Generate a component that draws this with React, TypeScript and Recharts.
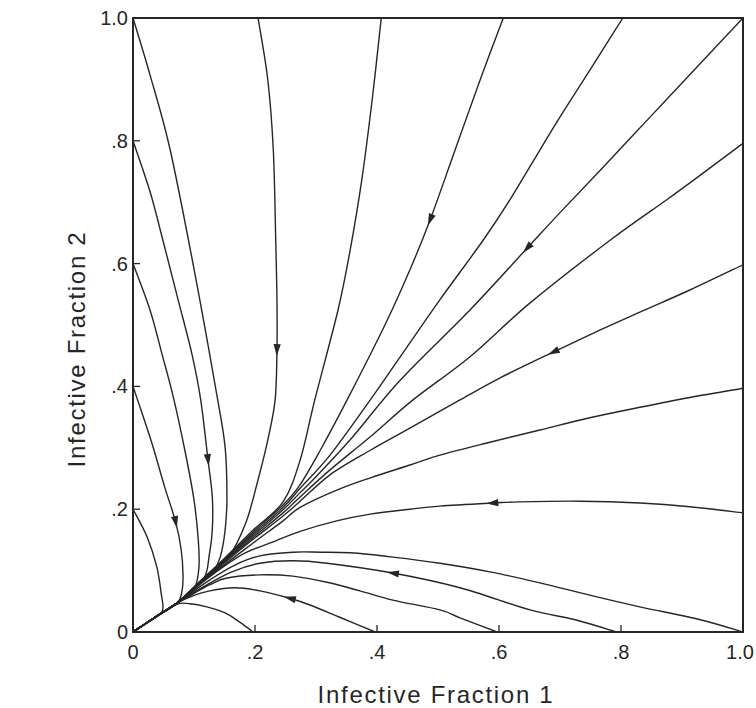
import React from 'react';
import { LineChart, Line, XAxis, YAxis, ReferenceArea, Label } from 'recharts';

type Pt = { x: number; y: number; arrow?: boolean };

const xTicks = [0, 0.2, 0.4, 0.6, 0.8, 1.0];
const yTicks = [0, 0.2, 0.4, 0.6, 0.8, 1.0];
const xTitle = 'Infective Fraction 1';
const yTitle = 'Infective Fraction 2';

// trajectories, listed from the starting point on the frame towards the origin
const fromLeft02: Pt[] = [
  { x: 0, y: 0.2 }, { x: 0.023, y: 0.155 }, { x: 0.039, y: 0.106 }, { x: 0.046, y: 0.064 },
  { x: 0.048, y: 0.034 }, { x: 0.025, y: 0.016 }, { x: 0, y: 0 },
];
const fromLeft04: Pt[] = [
  { x: 0, y: 0.4 }, { x: 0.016, y: 0.353 }, { x: 0.033, y: 0.301 }, { x: 0.052, y: 0.236 },
  { x: 0.07, y: 0.179, arrow: true }, { x: 0.079, y: 0.134 }, { x: 0.082, y: 0.093 }, { x: 0.08, y: 0.065 },
  { x: 0.072, y: 0.047 }, { x: 0.036, y: 0.024 }, { x: 0, y: 0 },
];
const fromLeft06: Pt[] = [
  { x: 0, y: 0.6 }, { x: 0.028, y: 0.524 }, { x: 0.048, y: 0.451 }, { x: 0.066, y: 0.383 },
  { x: 0.085, y: 0.296 }, { x: 0.1, y: 0.215 }, { x: 0.107, y: 0.15 }, { x: 0.108, y: 0.104 },
  { x: 0.1, y: 0.07 }, { x: 0.072, y: 0.047 }, { x: 0.036, y: 0.024 }, { x: 0, y: 0 },
];
const fromLeft08: Pt[] = [
  { x: 0, y: 0.8 }, { x: 0.028, y: 0.717 }, { x: 0.049, y: 0.638 }, { x: 0.074, y: 0.541 },
  { x: 0.097, y: 0.451 }, { x: 0.111, y: 0.378 }, { x: 0.123, y: 0.28, arrow: true }, { x: 0.13, y: 0.22 },
  { x: 0.13, y: 0.166 }, { x: 0.125, y: 0.125 }, { x: 0.115, y: 0.085 }, { x: 0.072, y: 0.047 },
  { x: 0.036, y: 0.024 }, { x: 0, y: 0 },
];
const fromTop00: Pt[] = [
  { x: 0, y: 1 }, { x: 0.028, y: 0.907 }, { x: 0.061, y: 0.785 }, { x: 0.102, y: 0.581 },
  { x: 0.138, y: 0.383 }, { x: 0.151, y: 0.301 }, { x: 0.154, y: 0.22 }, { x: 0.151, y: 0.166 },
  { x: 0.143, y: 0.122 }, { x: 0.131, y: 0.098 }, { x: 0.11, y: 0.08 }, { x: 0.072, y: 0.047 },
  { x: 0.036, y: 0.024 }, { x: 0, y: 0 },
];
const fromTop02: Pt[] = [
  { x: 0.205, y: 1 }, { x: 0.221, y: 0.899 }, { x: 0.23, y: 0.785 }, { x: 0.234, y: 0.638 },
  { x: 0.236, y: 0.541 }, { x: 0.236, y: 0.459, arrow: true }, { x: 0.233, y: 0.378 }, { x: 0.221, y: 0.313 },
  { x: 0.205, y: 0.248 }, { x: 0.185, y: 0.178 }, { x: 0.156, y: 0.121 }, { x: 0.118, y: 0.086 },
  { x: 0.072, y: 0.047 }, { x: 0.036, y: 0.024 }, { x: 0, y: 0 },
];
const fromTop04: Pt[] = [
  { x: 0.407, y: 1 }, { x: 0.392, y: 0.866 }, { x: 0.375, y: 0.736 }, { x: 0.356, y: 0.622 },
  { x: 0.336, y: 0.524 }, { x: 0.298, y: 0.378 }, { x: 0.274, y: 0.28 }, { x: 0.246, y: 0.212 },
  { x: 0.197, y: 0.166 }, { x: 0.149, y: 0.119 }, { x: 0.11, y: 0.083 }, { x: 0.072, y: 0.047 },
  { x: 0.036, y: 0.024 }, { x: 0, y: 0 },
];
const fromTop06: Pt[] = [
  { x: 0.607, y: 1 }, { x: 0.569, y: 0.899 }, { x: 0.528, y: 0.785 }, { x: 0.487, y: 0.671, arrow: true },
  { x: 0.454, y: 0.59 }, { x: 0.413, y: 0.5 }, { x: 0.351, y: 0.378 }, { x: 0.307, y: 0.296 },
  { x: 0.274, y: 0.24 }, { x: 0.246, y: 0.207 }, { x: 0.197, y: 0.163 }, { x: 0.149, y: 0.118 },
  { x: 0.11, y: 0.082 }, { x: 0.072, y: 0.047 }, { x: 0.036, y: 0.024 }, { x: 0, y: 0 },
];
const fromTop08: Pt[] = [
  { x: 0.803, y: 1 }, { x: 0.749, y: 0.915 }, { x: 0.692, y: 0.826 }, { x: 0.618, y: 0.704 },
  { x: 0.574, y: 0.638 }, { x: 0.503, y: 0.541 }, { x: 0.438, y: 0.448 }, { x: 0.389, y: 0.378 },
  { x: 0.323, y: 0.288 }, { x: 0.274, y: 0.234 }, { x: 0.246, y: 0.203 }, { x: 0.197, y: 0.16 },
  { x: 0.149, y: 0.117 }, { x: 0.11, y: 0.082 }, { x: 0.072, y: 0.047 }, { x: 0.036, y: 0.024 },
  { x: 0, y: 0 },
];
const fromCorner: Pt[] = [
  { x: 1, y: 1 }, { x: 0.93, y: 0.926 }, { x: 0.848, y: 0.839 }, { x: 0.766, y: 0.752 },
  { x: 0.7, y: 0.683 }, { x: 0.646, y: 0.625, arrow: true }, { x: 0.552, y: 0.524 }, { x: 0.438, y: 0.41 },
  { x: 0.356, y: 0.313 }, { x: 0.3, y: 0.253 }, { x: 0.274, y: 0.227 }, { x: 0.246, y: 0.199 },
  { x: 0.197, y: 0.157 }, { x: 0.149, y: 0.115 }, { x: 0.11, y: 0.081 }, { x: 0.072, y: 0.047 },
  { x: 0.036, y: 0.024 }, { x: 0, y: 0 },
];
const fromRight08: Pt[] = [
  { x: 1, y: 0.796 }, { x: 0.93, y: 0.744 }, { x: 0.875, y: 0.704 }, { x: 0.782, y: 0.638 },
  { x: 0.651, y: 0.536 }, { x: 0.552, y: 0.448 }, { x: 0.459, y: 0.378 }, { x: 0.389, y: 0.318 },
  { x: 0.323, y: 0.264 }, { x: 0.274, y: 0.22 }, { x: 0.246, y: 0.194 }, { x: 0.197, y: 0.154 },
  { x: 0.149, y: 0.114 }, { x: 0.11, y: 0.081 }, { x: 0.072, y: 0.047 }, { x: 0.036, y: 0.024 },
  { x: 0, y: 0 },
];
const fromRight06: Pt[] = [
  { x: 1, y: 0.598 }, { x: 0.913, y: 0.557 }, { x: 0.831, y: 0.521 }, { x: 0.766, y: 0.492 },
  { x: 0.689, y: 0.456, arrow: true }, { x: 0.602, y: 0.414 }, { x: 0.536, y: 0.378 }, { x: 0.454, y: 0.332 },
  { x: 0.389, y: 0.296 }, { x: 0.323, y: 0.256 }, { x: 0.274, y: 0.213 }, { x: 0.246, y: 0.189 },
  { x: 0.197, y: 0.151 }, { x: 0.149, y: 0.112 }, { x: 0.11, y: 0.08 }, { x: 0.072, y: 0.047 },
  { x: 0.036, y: 0.024 }, { x: 0, y: 0 },
];
const fromRight04: Pt[] = [
  { x: 1, y: 0.397 }, { x: 0.913, y: 0.382 }, { x: 0.831, y: 0.366 }, { x: 0.749, y: 0.349 },
  { x: 0.667, y: 0.329 }, { x: 0.585, y: 0.309 }, { x: 0.503, y: 0.288 }, { x: 0.454, y: 0.272 },
  { x: 0.389, y: 0.251 }, { x: 0.334, y: 0.231 }, { x: 0.274, y: 0.203 }, { x: 0.246, y: 0.181 },
  { x: 0.197, y: 0.145 }, { x: 0.149, y: 0.109 }, { x: 0.11, y: 0.079 }, { x: 0.072, y: 0.047 },
  { x: 0.036, y: 0.024 }, { x: 0, y: 0 },
];
const fromRight02: Pt[] = [
  { x: 1, y: 0.194 }, { x: 0.913, y: 0.204 }, { x: 0.831, y: 0.21 }, { x: 0.733, y: 0.213 },
  { x: 0.634, y: 0.212 }, { x: 0.589, y: 0.21, arrow: true }, { x: 0.503, y: 0.205 }, { x: 0.454, y: 0.2 },
  { x: 0.389, y: 0.192 }, { x: 0.334, y: 0.181 }, { x: 0.274, y: 0.164 }, { x: 0.225, y: 0.145 },
  { x: 0.184, y: 0.129 }, { x: 0.149, y: 0.107 }, { x: 0.11, y: 0.078 }, { x: 0.072, y: 0.047 },
  { x: 0.036, y: 0.024 }, { x: 0, y: 0 },
];
const fromRight00: Pt[] = [
  { x: 1, y: 0 }, { x: 0.93, y: 0.02 }, { x: 0.831, y: 0.041 }, { x: 0.749, y: 0.06 },
  { x: 0.667, y: 0.08 }, { x: 0.585, y: 0.098 }, { x: 0.503, y: 0.112 }, { x: 0.426, y: 0.122 },
  { x: 0.356, y: 0.129 }, { x: 0.307, y: 0.13 }, { x: 0.262, y: 0.13 }, { x: 0.208, y: 0.124 },
  { x: 0.167, y: 0.109 }, { x: 0.126, y: 0.085 }, { x: 0.093, y: 0.062 }, { x: 0.072, y: 0.047 },
  { x: 0.036, y: 0.024 }, { x: 0, y: 0 },
];
const fromBottom08: Pt[] = [
  { x: 0.793, y: 0 }, { x: 0.725, y: 0.02 }, { x: 0.651, y: 0.036 }, { x: 0.536, y: 0.072 },
  { x: 0.426, y: 0.096, arrow: true }, { x: 0.318, y: 0.112 }, { x: 0.262, y: 0.116 }, { x: 0.208, y: 0.112 },
  { x: 0.162, y: 0.098 }, { x: 0.118, y: 0.075 }, { x: 0.072, y: 0.047 }, { x: 0.036, y: 0.024 },
  { x: 0, y: 0 },
];
const fromBottom06: Pt[] = [
  { x: 0.597, y: 0 }, { x: 0.536, y: 0.023 }, { x: 0.503, y: 0.036 }, { x: 0.426, y: 0.052 },
  { x: 0.372, y: 0.067 }, { x: 0.318, y: 0.081 }, { x: 0.262, y: 0.091 }, { x: 0.208, y: 0.093 },
  { x: 0.154, y: 0.088 }, { x: 0.126, y: 0.077 }, { x: 0.093, y: 0.059 }, { x: 0.072, y: 0.047 },
  { x: 0.036, y: 0.024 }, { x: 0, y: 0 },
];
const fromBottom04: Pt[] = [
  { x: 0.397, y: 0 }, { x: 0.339, y: 0.024 }, { x: 0.29, y: 0.044 }, { x: 0.257, y: 0.055, arrow: true },
  { x: 0.208, y: 0.067 }, { x: 0.167, y: 0.072 }, { x: 0.126, y: 0.067 }, { x: 0.093, y: 0.057 },
  { x: 0.072, y: 0.047 }, { x: 0.036, y: 0.024 }, { x: 0, y: 0 },
];
const fromBottom02: Pt[] = [
  { x: 0.197, y: 0 }, { x: 0.175, y: 0.016 }, { x: 0.151, y: 0.031 }, { x: 0.121, y: 0.041 },
  { x: 0.093, y: 0.046 }, { x: 0.072, y: 0.045 }, { x: 0.036, y: 0.023 }, { x: 0, y: 0 },
];

const trajectories = [
  fromLeft02, fromLeft04, fromLeft06, fromLeft08, fromTop00, fromTop02, fromTop04, fromTop06,
  fromTop08, fromCorner, fromRight08, fromRight06, fromRight04, fromRight02, fromRight00,
  fromBottom08, fromBottom06, fromBottom04, fromBottom02,
];

// plot box in px, used to orient the arrow heads
const PLOT_W = 610;
const PLOT_H = 614;
const INK = '#262626';
const FONT = '"Liberation Sans", Arial, sans-serif';

const fmt = (v: number) => (v === 0 ? '0' : v === 1 ? '1.0' : `.${Math.round(v * 10)}`);

// simple catmull-rom, the trajectories are not monotone in x
const smooth = (context: any) => {
  let pts: number[][] = [];
  return {
    areaStart() {},
    areaEnd() {},
    lineStart() {
      pts = [];
    },
    point(x: number, y: number) {
      pts.push([x, y]);
    },
    lineEnd() {
      if (!pts.length) return;
      context.moveTo(pts[0][0], pts[0][1]);
      for (let i = 0; i < pts.length - 1; i++) {
        const p0 = pts[Math.max(i - 1, 0)];
        const p1 = pts[i];
        const p2 = pts[i + 1];
        const p3 = pts[Math.min(i + 2, pts.length - 1)];
        context.bezierCurveTo(
          p1[0] + (p2[0] - p0[0]) / 6, p1[1] + (p2[1] - p0[1]) / 6,
          p2[0] - (p3[0] - p1[0]) / 6, p2[1] - (p3[1] - p1[1]) / 6,
          p2[0], p2[1],
        );
      }
    },
  };
};

const arrowDot = (pts: Pt[]) => (props: any) => {
  const { cx, cy, index } = props;
  const p = pts[index];
  const q = pts[index + 1];
  if (!p || !p.arrow || !q || cx == null) return <g key={`d-${index}`} />;
  const ang = (Math.atan2(-(q.y - p.y) * PLOT_H, (q.x - p.x) * PLOT_W) * 180) / Math.PI;
  return (
    <path
      key={`d-${index}`}
      d="M6,0 L-6,-3.6 L-6,3.6 Z"
      transform={`translate(${cx},${cy}) rotate(${ang})`}
      fill={INK}
    />
  );
};

const XTick = ({ x, y, payload }: any) => (
  <g>
    <line x1={x} y1={y} x2={x} y2={y - 7} stroke={INK} strokeWidth={1.3} />
    <text
      x={payload.value === 1 ? x - 3 : x}
      y={y + 27}
      textAnchor="middle"
      fontSize={20}
      fill={INK}
      fontFamily={FONT}
    >
      {fmt(payload.value)}
    </text>
  </g>
);

const YTick = ({ x, y, payload }: any) => (
  <g>
    <line x1={x} y1={y} x2={x + 7} y2={y} stroke={INK} strokeWidth={1.3} />
    <text x={x - 5} y={y + 7} textAnchor="end" fontSize={20} fill={INK} fontFamily={FONT}>
      {fmt(payload.value)}
    </text>
  </g>
);

const XTitle = ({ viewBox }: any) => (
  <text
    x={viewBox.x + viewBox.width / 2 - 2}
    y={viewBox.y + 71}
    textAnchor="middle"
    fontSize={24}
    letterSpacing={1.7}
    fill={INK}
    fontFamily={FONT}
  >
    {xTitle}
  </text>
);

const YTitle = ({ viewBox }: any) => {
  const cx = 76;
  const cy = viewBox.y + viewBox.height / 2 + 24;
  return (
    <text
      x={cx}
      y={cy}
      transform={`rotate(-90 ${cx} ${cy})`}
      textAnchor="middle"
      dominantBaseline="central"
      fontSize={24}
      letterSpacing={1.7}
      fill={INK}
      fontFamily={FONT}
    >
      {yTitle}
    </text>
  );
};

export default function App() {
  return (
    <div style={{ background: '#fff', width: 756, height: 708 }}>
      <style>{'body{margin:0;background:#fff}'}</style>
      <LineChart width={756} height={708} margin={{ top: 18, right: 13, bottom: 0, left: 0 }}>
        <XAxis
          type="number"
          dataKey="x"
          domain={[0, 1]}
          ticks={xTicks}
          allowDataOverflow
          height={76}
          tickSize={0}
          tickMargin={0}
          tickLine={false}
          tick={<XTick />}
          axisLine={{ stroke: INK, strokeWidth: 2 }}
          interval={0}
        >
          <Label content={<XTitle />} />
        </XAxis>
        <YAxis
          type="number"
          dataKey="y"
          domain={[0, 1]}
          ticks={yTicks}
          allowDataOverflow
          width={133}
          tickSize={0}
          tickMargin={0}
          tickLine={false}
          tick={<YTick />}
          axisLine={{ stroke: INK, strokeWidth: 2 }}
          interval={0}
        >
          <Label content={<YTitle />} />
        </YAxis>
        <ReferenceArea x1={0} x2={1} y1={0} y2={1} fill="none" stroke={INK} strokeWidth={2} />
        {trajectories.map((pts, i) => (
          <Line
            key={i}
            data={pts}
            dataKey="y"
            type={smooth as any}
            stroke={INK}
            strokeWidth={1.4}
            dot={arrowDot(pts)}
            activeDot={false}
            legendType="none"
            isAnimationActive={false}
          />
        ))}
      </LineChart>
    </div>
  );
}
